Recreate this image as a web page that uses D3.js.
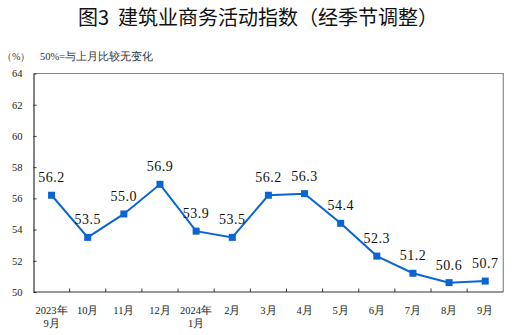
<!DOCTYPE html>
<html><head><meta charset="utf-8">
<script src="https://cdn.jsdelivr.net/npm/d3@7"></script>
<style>body{margin:0;background:#fff}</style>
</head><body>
<svg id="c" width="513" height="335"></svg>
<script>
const categories = ["2023年|9月","10月","11月","12月","2024年|1月","2月","3月","4月","5月","6月","7月","8月","9月"];
const values = [56.2,53.5,55.0,56.9,53.9,53.5,56.2,56.3,54.4,52.3,51.2,50.6,50.7];
const yTicks = [50,52,54,56,58,60,62,64];
const title = "图3  建筑业商务活动指数（经季节调整）";
const unitLabel = "（%）";
const note = "50%=与上月比较无变化";

const svg = d3.select("#c");
const L = 33.5, R = 503.3, T = 73.5, B = 292;
const serif = "'Liberation Serif','Times New Roman',serif";
const cjk = "'Noto Sans CJK SC',sans-serif";

const x = d3.scaleBand().domain(categories).range([L, R]);
const y = d3.scaleLinear().domain([50, 64]).range([B, T]);

svg.append("text").attr("x", 258).attr("y", 25).attr("text-anchor", "middle")
  .attr("font-family", cjk).attr("font-size", 20).attr("font-weight", 400).attr("fill", "#111")
  .attr("xml:space","preserve").text(title);

svg.append("text").attr("x", 2).attr("y", 60).attr("font-family", serif).attr("font-size", 10).attr("fill", "#333").text(unitLabel);
svg.append("text").attr("x", 40).attr("y", 60).attr("font-family", serif).attr("font-size", 10.5).attr("fill", "#333").text(note);

// frame top/right
svg.append("path").attr("d", `M${L},${T}H${R}V${B}`).attr("fill", "none").attr("stroke", "#8a8a8a").attr("stroke-width", 1.2);

// y axis
const yAxis = svg.append("g").attr("transform", `translate(${L},0)`)
  .call(d3.axisLeft(y).tickValues(yTicks).tickSize(-3).tickPadding(14).tickFormat(d3.format("d")));
yAxis.select(".domain").attr("stroke", "#333").attr("stroke-width", 1.2);
yAxis.selectAll(".tick line").attr("stroke", "#333").filter(d => d === 50 || d === 64).remove();
yAxis.selectAll(".tick text").attr("font-family", serif).attr("font-size", 10.5).attr("fill", "#222").attr("x", -11);

// x axis: ticks at band boundaries
const xAxisG = svg.append("g").attr("transform", `translate(0,${B})`);
xAxisG.append("line").attr("x1", L).attr("x2", R).attr("stroke", "#333").attr("stroke-width", 1.2);
xAxisG.selectAll("line.tk").data(categories.slice(1)).join("line").attr("class", "tk")
  .attr("x1", d => x(d)).attr("x2", d => x(d)).attr("y1", 0).attr("y2", -3.5).attr("stroke", "#333");
const xl = xAxisG.selectAll("text.xl").data(categories).join("text").attr("class", "xl")
  .attr("x", d => x(d) + x.bandwidth() / 2).attr("y", 22).attr("text-anchor", "middle")
  .attr("font-family", serif).attr("font-size", 10.5).attr("fill", "#222");
xl.each(function(d) {
  const parts = d.split("|");
  const t = d3.select(this);
  parts.forEach((p, i) => t.append("tspan").attr("x", x(d) + x.bandwidth() / 2).attr("dy", i === 0 ? 0 : 13).text(p));
});

// line
const color = "#0a64d2";
const cx = d => x(d) + x.bandwidth() / 2;
svg.append("path").datum(values)
  .attr("d", d3.line().x((v, i) => cx(categories[i])).y(v => y(v)))
  .attr("fill", "none").attr("stroke", color).attr("stroke-width", 2);
svg.selectAll("rect.m").data(values).join("rect").attr("class", "m")
  .attr("x", (v, i) => cx(categories[i]) - 3.5).attr("y", v => y(v) - 3.5)
  .attr("width", 7).attr("height", 7).attr("fill", color);

svg.selectAll("text.lb").data(values).join("text").attr("class", "lb")
  .attr("x", (v, i) => cx(categories[i])).attr("y", v => y(v) - 13)
  .attr("text-anchor", "middle").attr("font-family", serif).attr("font-size", 14)
  .attr("letter-spacing", 0.5).attr("fill", "#111").text(v => v.toFixed(1));
</script>
</body></html>
